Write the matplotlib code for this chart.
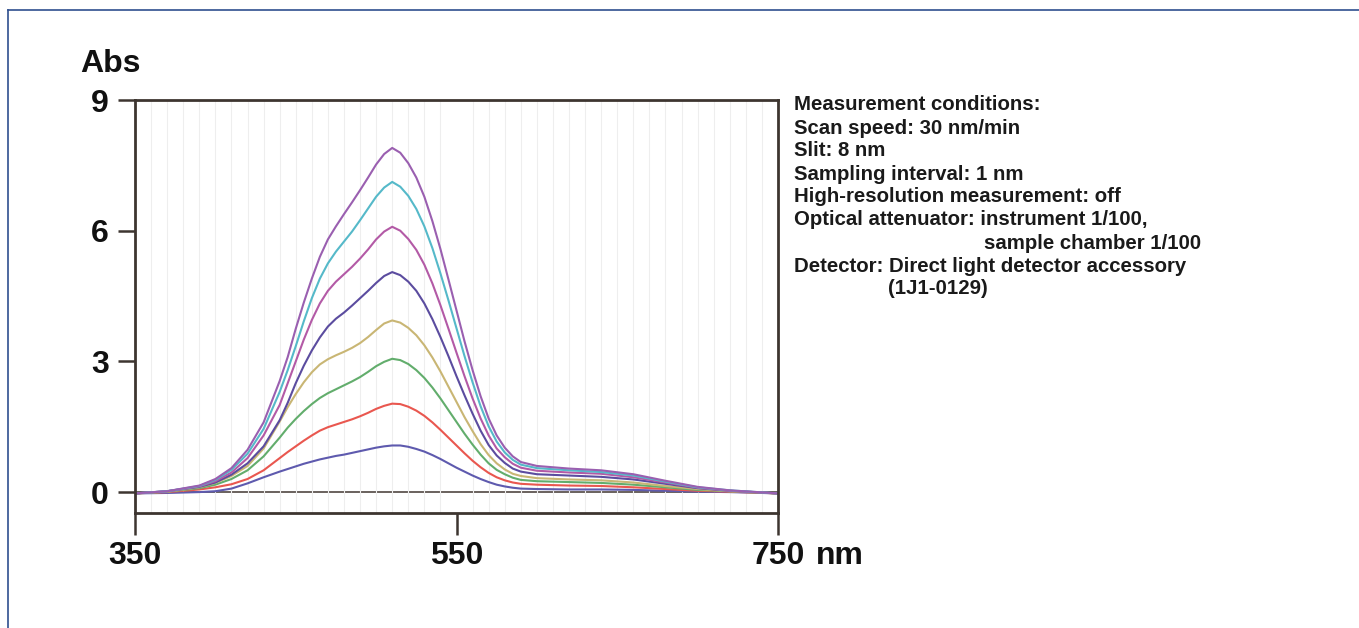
import matplotlib
matplotlib.use("Agg")
import matplotlib.pyplot as plt
from matplotlib.lines import Line2D
from matplotlib.ticker import MultipleLocator

plt.rcParams['font.family'] = ['Liberation Sans', 'DejaVu Sans']

W, H = 1359, 628

# ---------------- data ----------------
wavelength = [350, 370, 390, 400, 410, 420, 430, 440, 445, 450, 455, 460, 465, 470, 475,
              480, 485, 490, 495, 500, 505, 510, 515, 520, 525, 530, 535, 540, 545, 550,
              555, 560, 565, 570, 575, 580, 585, 590, 600, 620, 640, 660, 680, 700, 720, 750]

abs_1 = [-0.03, -0.02, 0.0, 0.02, 0.08, 0.2, 0.34, 0.47, 0.53, 0.59, 0.65, 0.7, 0.75, 0.79, 0.83,
         0.86, 0.9, 0.94, 0.98, 1.02, 1.05, 1.07, 1.07, 1.04, 0.99, 0.93, 0.85, 0.76, 0.66, 0.56,
         0.47, 0.38, 0.3, 0.23, 0.17, 0.13, 0.1, 0.08, 0.07, 0.06, 0.06, 0.05, 0.03, 0.01, 0.0, -0.03]
abs_2 = [-0.03, 0.0, 0.06, 0.11, 0.18, 0.3, 0.5, 0.78, 0.92, 1.05, 1.18, 1.3, 1.41, 1.49, 1.55,
         1.61, 1.67, 1.74, 1.82, 1.91, 1.98, 2.03, 2.02, 1.96, 1.87, 1.75, 1.6, 1.43, 1.25, 1.07,
         0.89, 0.72, 0.57, 0.44, 0.34, 0.27, 0.22, 0.19, 0.17, 0.15, 0.14, 0.11, 0.07, 0.03, 0.01, -0.03]
abs_3 = [-0.03, 0.01, 0.09, 0.17, 0.3, 0.5, 0.82, 1.25, 1.48, 1.68, 1.86, 2.02, 2.16, 2.27, 2.36,
         2.45, 2.54, 2.64, 2.76, 2.89, 2.99, 3.06, 3.03, 2.94, 2.8, 2.62, 2.4, 2.15, 1.88, 1.61,
         1.34, 1.09, 0.86, 0.66, 0.51, 0.41, 0.33, 0.28, 0.25, 0.23, 0.21, 0.17, 0.11, 0.05, 0.02, -0.03]
abs_4 = [-0.03, 0.01, 0.11, 0.21, 0.37, 0.6, 1.0, 1.62, 1.95, 2.25, 2.52, 2.75, 2.93, 3.05, 3.14,
         3.22, 3.31, 3.42, 3.56, 3.72, 3.87, 3.94, 3.89, 3.77, 3.6, 3.37, 3.09, 2.77, 2.42, 2.07,
         1.72, 1.4, 1.1, 0.85, 0.66, 0.52, 0.42, 0.37, 0.32, 0.29, 0.27, 0.22, 0.14, 0.07, 0.02, -0.03]
abs_5 = [-0.03, 0.02, 0.12, 0.22, 0.4, 0.66, 1.05, 1.65, 2.05, 2.5, 2.9, 3.25, 3.55, 3.8, 3.98,
         4.12, 4.28, 4.45, 4.62, 4.8, 4.96, 5.05, 4.98, 4.83, 4.62, 4.33, 3.97, 3.56, 3.12, 2.66,
         2.22, 1.8, 1.41, 1.08, 0.84, 0.67, 0.54, 0.47, 0.41, 0.38, 0.35, 0.29, 0.19, 0.09, 0.03, -0.03]
abs_6 = [-0.03, 0.02, 0.13, 0.25, 0.45, 0.78, 1.3, 2.0, 2.5, 3.0, 3.5, 3.95, 4.33, 4.62, 4.83,
         5.0, 5.17, 5.36, 5.57, 5.8, 5.98, 6.09, 6.0, 5.81, 5.56, 5.22, 4.79, 4.29, 3.75, 3.2,
         2.66, 2.15, 1.69, 1.3, 1.0, 0.8, 0.65, 0.56, 0.49, 0.45, 0.42, 0.34, 0.22, 0.1, 0.03, -0.03]
abs_7 = [-0.03, 0.02, 0.14, 0.28, 0.51, 0.88, 1.45, 2.3, 2.8, 3.35, 3.92, 4.45, 4.9, 5.25, 5.52,
         5.75, 5.98, 6.24, 6.51, 6.78, 6.99, 7.12, 7.01, 6.8, 6.5, 6.1, 5.6, 5.02, 4.4, 3.76,
         3.12, 2.52, 1.97, 1.51, 1.16, 0.91, 0.74, 0.63, 0.55, 0.5, 0.46, 0.38, 0.24, 0.11, 0.04, -0.03]
abs_8 = [-0.03, 0.02, 0.15, 0.3, 0.55, 0.97, 1.6, 2.55, 3.1, 3.75, 4.35, 4.9, 5.4, 5.8, 6.1,
         6.38, 6.65, 6.93, 7.22, 7.52, 7.76, 7.9, 7.79, 7.55, 7.22, 6.78, 6.22, 5.58, 4.88, 4.17,
         3.46, 2.8, 2.2, 1.69, 1.3, 1.02, 0.82, 0.69, 0.6, 0.54, 0.5, 0.41, 0.26, 0.12, 0.04, -0.03]

series = [abs_1, abs_2, abs_3, abs_4, abs_5, abs_6, abs_7, abs_8]
colors = ['#5e5aae', '#e9574f', '#62ad6c', '#c9b674', '#5b4c9f', '#b35aa6', '#55b9c9', '#9a5fb0']

x_ticks = [350, 550, 750]
y_ticks = [0, 3, 6, 9]

conditions = [
    ("Measurement conditions:", 0),
    ("Scan speed: 30 nm/min", 0),
    ("Slit: 8 nm", 0),
    ("Sampling interval: 1 nm", 0),
    ("High-resolution measurement: off", 0),
    ("Optical attenuator: instrument 1/100,", 0),
    ("sample chamber 1/100", 190),
    ("Detector: Direct light detector accessory", 0),
    ("(1J1-0129)", 94),
]

# ---------------- figure ----------------
fig = plt.figure(figsize=(W / 100, H / 100), dpi=100)
fig.patch.set_facecolor('white')

# thin blue frame (left and top)
fig.add_artist(Line2D([8 / W, 8 / W], [0, 1 - 10 / H], color='#2f4f8f', lw=1.2))
fig.add_artist(Line2D([8 / W, 1], [1 - 10 / H, 1 - 10 / H], color='#2f4f8f', lw=1.2))

left, right, top, bottom = 135, 778, 100, 513
ax = fig.add_axes([left / W, 1 - bottom / H, (right - left) / W, (bottom - top) / H])
ax.set_xlim(350, 750)
ax.set_ylim(-0.48, 9)

# faint vertical grid
ax.xaxis.set_minor_locator(MultipleLocator(10))
ax.grid(True, which='minor', axis='x', color='#eeeeee', lw=0.8, zorder=0)
ax.tick_params(which='minor', length=0)

# baseline
ax.axhline(0, color='#5e5550', lw=1.3, zorder=1)

for vals, c in zip(series, colors):
    ax.plot(wavelength, vals, color=c, lw=1.5, zorder=2, solid_joinstyle='round')

spine_c = '#3d3530'
for s in ax.spines.values():
    s.set_color(spine_c)
    s.set_linewidth(2.0)

ax.set_xticks(x_ticks)
ax.set_xticklabels([str(v) for v in x_ticks])
ax.set_yticks(y_ticks)
ax.set_yticklabels([str(v) for v in y_ticks])
ax.tick_params(axis='x', which='major', length=16, width=1.8, color=spine_c, pad=4,
               labelsize=23, direction='out')
ax.tick_params(axis='y', which='major', length=12, width=1.8, color=spine_c, pad=7,
               labelsize=23, direction='out')
for lab in ax.get_xticklabels() + ax.get_yticklabels():
    lab.set_fontweight('bold')
    lab.set_color('#111111')

# axis title
fig.text(80 / W, 1 - 72 / H, "Abs", ha='left', va='baseline', fontsize=23,
         fontweight='bold', color='#111111')

fig.canvas.draw()
lab750 = [l for l in ax.get_xticklabels() if l.get_text() == '750'][0]
bb = lab750.get_window_extent()
fig.text((bb.x1 + 11) / W, bb.y0 / H, "nm", ha='left', va='bottom', fontsize=23,
         fontweight='bold', color='#111111')

# measurement conditions block
x0 = 794
y_first = 105
dy = 23.0
for i, (line, indent) in enumerate(conditions):
    fig.text((x0 + indent) / W, 1 - (y_first + i * dy) / H, line, ha='left', va='center',
             fontsize=14.7, fontweight='bold', color='#1a1a1a')

fig.savefig("out.png", dpi=100, facecolor='white')
